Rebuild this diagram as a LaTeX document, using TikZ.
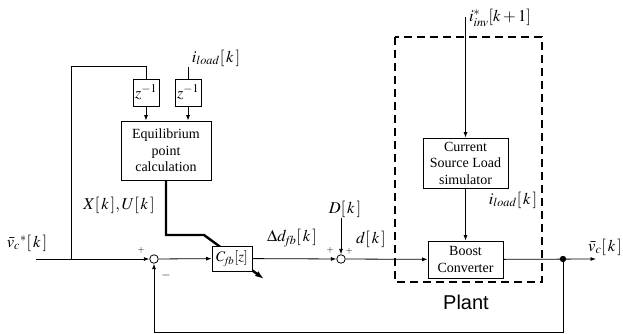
\documentclass[tikz,border=0pt]{standalone}
\usepackage{mathptmx}
\usepackage[no-math]{fontspec}
\setmainfont{Liberation Serif}
\newfontfamily\plantfont{Liberation Sans}
\usetikzlibrary{arrows.meta}
\newcommand\kb{[\,k\,]}
\begin{document}
\begin{tikzpicture}[x=1pt,y=-1pt,
  blk/.style={draw,line width=0.8pt,fill=white,inner sep=0pt,align=center,font=\fontsize{14}{16.5}\selectfont},
  con/.style={line width=0.8pt},
  arr/.style={line width=0.8pt,-{Latex[length=5.5pt,width=4pt]}},
  lbl/.style={font=\fontsize{16.5}{18}\selectfont,inner sep=0pt},
  sgn/.style={font=\fontsize{9}{10}\selectfont,inner sep=0pt},
  sumc/.style={draw,circle,line width=0.8pt,fill=white,minimum size=8.5pt,inner sep=0pt}]
\useasboundingbox (0,0) rectangle (623,334);
% plant dashed box
\draw[line width=2pt,dash pattern=on 8pt off 5pt] (395,37) rectangle (542,282);
\node[font=\plantfont\fontsize{20}{22}\selectfont] (plant) at (466,302) {Plant};
% blocks
\node[blk,minimum width=26pt,minimum height=27pt] (z1) at (146,92.5) {\fontsize{16}{17}\selectfont$z^{-1}$};
\node[blk,minimum width=26pt,minimum height=27pt] (z2) at (188,92.5) {\fontsize{16}{17}\selectfont$z^{-1}$};
\node[blk,minimum width=90pt,minimum height=59pt] (eq) at (166,150.5) {Equilibrium\\point\\calculation};
\node[blk,minimum width=85pt,minimum height=50pt] (sim) at (465.5,163) {Current\\Source Load\\simulator};
\node[blk,minimum width=75pt,minimum height=37pt] (boost) at (465.5,259.5) {Boost\\Converter};
\node[sumc] (s1) at (154,259) {};
\node[sumc] (s2) at (341,259) {};
\fill (563,259) circle (3.2pt) coordinate (dot);
% coordinates
\coordinate (in) at (36,259);
\coordinate (br) at (71,259);
\coordinate (zt) at (146,66);
\coordinate (il) at (188,67);
\coordinate (k1) at (166,235);
\coordinate (k2) at (204,235);
\coordinate (ktip) at (264,279);
\coordinate (dtop) at (341,218);
\coordinate (itop) at (465.5,17);
\coordinate (out) at (596,259);
\coordinate (fb) at (563,332);
\coordinate (fb2) at (154,332);
% thick adaptation line
\draw[line width=2.4pt,-{Latex[length=9pt,width=6pt]}] (eq.south) -- (k1) -- (k2) -- (ktip);
\node[blk,minimum width=40pt,minimum height=25pt] (cfb) at (232,258.5) {\fontsize{14.5}{15}\selectfont$C_{\!f\!b}[z]$};
% connectors
\draw[arr] (in) -- (s1);
\draw[con] (br) |- (zt) -- (z1.north);
\draw[con] (il) -- (z2.north);
\draw[arr] (z1.south) -- (z1.south |- eq.north);
\draw[arr] (z2.south) -- (z2.south |- eq.north);
\draw[arr] (s1) -- (cfb);
\draw[arr] (cfb) -- (s2);
\draw[arr] (dtop) -- (s2);
\draw[arr] (s2) -- (boost);
\draw[arr] (itop) -- (sim);
\draw[arr] (sim) -- (boost);
\draw[arr] (boost) -- (out);
\draw[arr] (dot) -- (fb) -- (fb2) -- (s1);
% labels
\node[lbl] (lvr) at (27,243) {$\bar{v}_c{}^{*}\kb$};
\node[lbl] (lxu) at (119,205) {$X\kb,U\kb$};
\node[lbl] (lil1) at (216,58) {$i_{load}\kb$};
\node[lbl] (ldd) at (292,238) {$\Delta d_{\!f\!b}\kb$};
\node[lbl] (lD) at (345,209) {$D\kb$};
\node[lbl] (ld) at (371,239) {$d\kb$};
\node[lbl] (linv) at (500,18) {$i^{*}_{inv}[k+1]$};
\node[lbl] (lil2) at (513,200) {$i_{load}\kb$};
\node[lbl] (lvc) at (605,247) {$\bar{v}_c\kb$};
\node[sgn] (p1) at (141,250) {$+$};
\node[sgn,font=\fontsize{12}{12}\selectfont] (m1) at (166,275) {$-$};
\node[sgn] (p2) at (330,250) {$+$};
\node[sgn] (p3) at (349,251) {$+$};
\end{tikzpicture}
\end{document}
